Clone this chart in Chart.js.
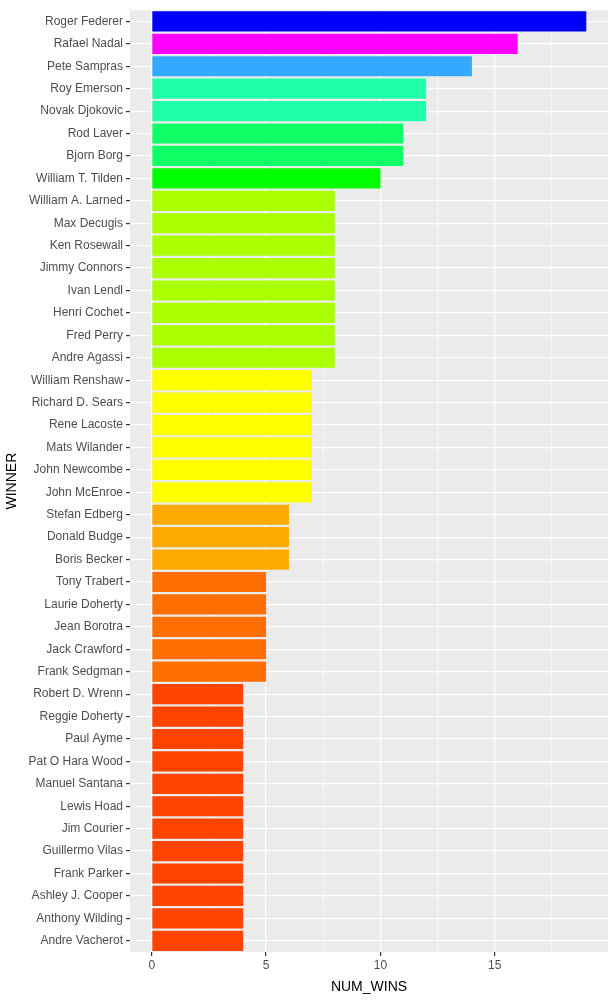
<!DOCTYPE html>
<html><head><meta charset="utf-8">
<script src="https://cdn.jsdelivr.net/npm/chart.js@4"></script>
<style>html,body{margin:0;padding:0;background:#fff}#wrap{width:615px;height:1000px}</style>
</head><body><div id="wrap"><canvas id="c"></canvas></div>
<script>
const winners = ['Roger Federer','Rafael Nadal','Pete Sampras','Roy Emerson','Novak Djokovic','Rod Laver','Bjorn Borg','William T. Tilden','William A. Larned','Max Decugis','Ken Rosewall','Jimmy Connors','Ivan Lendl','Henri Cochet','Fred Perry','Andre Agassi','William Renshaw','Richard D. Sears','Rene Lacoste','Mats Wilander','John Newcombe','John McEnroe','Stefan Edberg','Donald Budge','Boris Becker','Tony Trabert','Laurie Doherty','Jean Borotra','Jack Crawford','Frank Sedgman','Robert D. Wrenn','Reggie Doherty','Paul Ayme','Pat O Hara Wood','Manuel Santana','Lewis Hoad','Jim Courier','Guillermo Vilas','Frank Parker','Ashley J. Cooper','Anthony Wilding','Andre Vacherot'];
const numWins = [19,16,14,12,12,11,11,10,8,8,8,8,8,8,8,8,7,7,7,7,7,7,6,6,6,5,5,5,5,5,4,4,4,4,4,4,4,4,4,4,4,4];
const winColors = {19:'#0000FF',16:'#FF00FF',14:'#33AAFF',12:'#22FFAA',11:'#11FF66',10:'#00FF00',8:'#AAFF00',7:'#FFFF00',6:'#FFAA00',5:'#FF6E00',4:'#FF4400'};
const xTicks = [0,2.5,5,7.5,10,12.5,15,17.5];

const panelBg = {
  id: 'panelBg',
  beforeDraw(chart) {
    const a = chart.chartArea, ctx = chart.ctx;
    ctx.save();
    ctx.fillStyle = '#EBEBEB';
    ctx.fillRect(a.left, a.top, a.right - a.left, a.bottom - a.top);
    ctx.restore();
  }
};

const font = {family: 'Liberation Sans, Arial', size: 12};

new Chart(document.getElementById('c'), {
  type: 'bar',
  data: {
    labels: winners,
    datasets: [{
      data: numWins,
      backgroundColor: numWins.map(v => winColors[v]),
      categoryPercentage: 0.9,
      barPercentage: 1
    }]
  },
  options: {
    indexAxis: 'y',
    responsive: true,
    maintainAspectRatio: false,
    animation: false,
    layout: {padding: {top: 8, right: 7}},
    plugins: {legend: {display: false}, tooltip: {enabled: false}},
    scales: {
      x: {
        min: -0.95, max: 19.95,
        afterBuildTicks: s => { s.ticks = xTicks.map(v => ({value: v})); },
        afterFit: s => { s.height = 48; },
        border: {display: false},
        grid: {
          color: '#FFFFFF',
          lineWidth: c => (c.tick && c.tick.value % 5 === 0) ? 1.2 : 0.6,
          tickColor: c => (c.tick && c.tick.value % 5 === 0) ? '#333333' : 'rgba(0,0,0,0)',
          tickLength: 4
        },
        ticks: {
          color: '#4D4D4D', font: font, padding: 2, maxRotation: 0, autoSkip: false,
          callback: v => v % 5 === 0 ? v : ''
        },
        title: {display: true, text: 'NUM_WINS', color: '#000', font: {family: 'Liberation Sans, Arial', size: 14}, padding: {top: 2}}
      },
      y: {
        afterFit: s => { s.width = 130; },
        border: {display: false},
        grid: {color: '#FFFFFF', lineWidth: 1.2, offset: false, tickColor: '#333333', tickLength: 4},
        ticks: {color: '#4D4D4D', font: font, padding: 3, autoSkip: false},
        title: {display: true, text: 'WINNER', color: '#000', font: {family: 'Liberation Sans, Arial', size: 14}, padding: {bottom: 2}}
      }
    }
  },
  plugins: [panelBg]
});
</script></body></html>
